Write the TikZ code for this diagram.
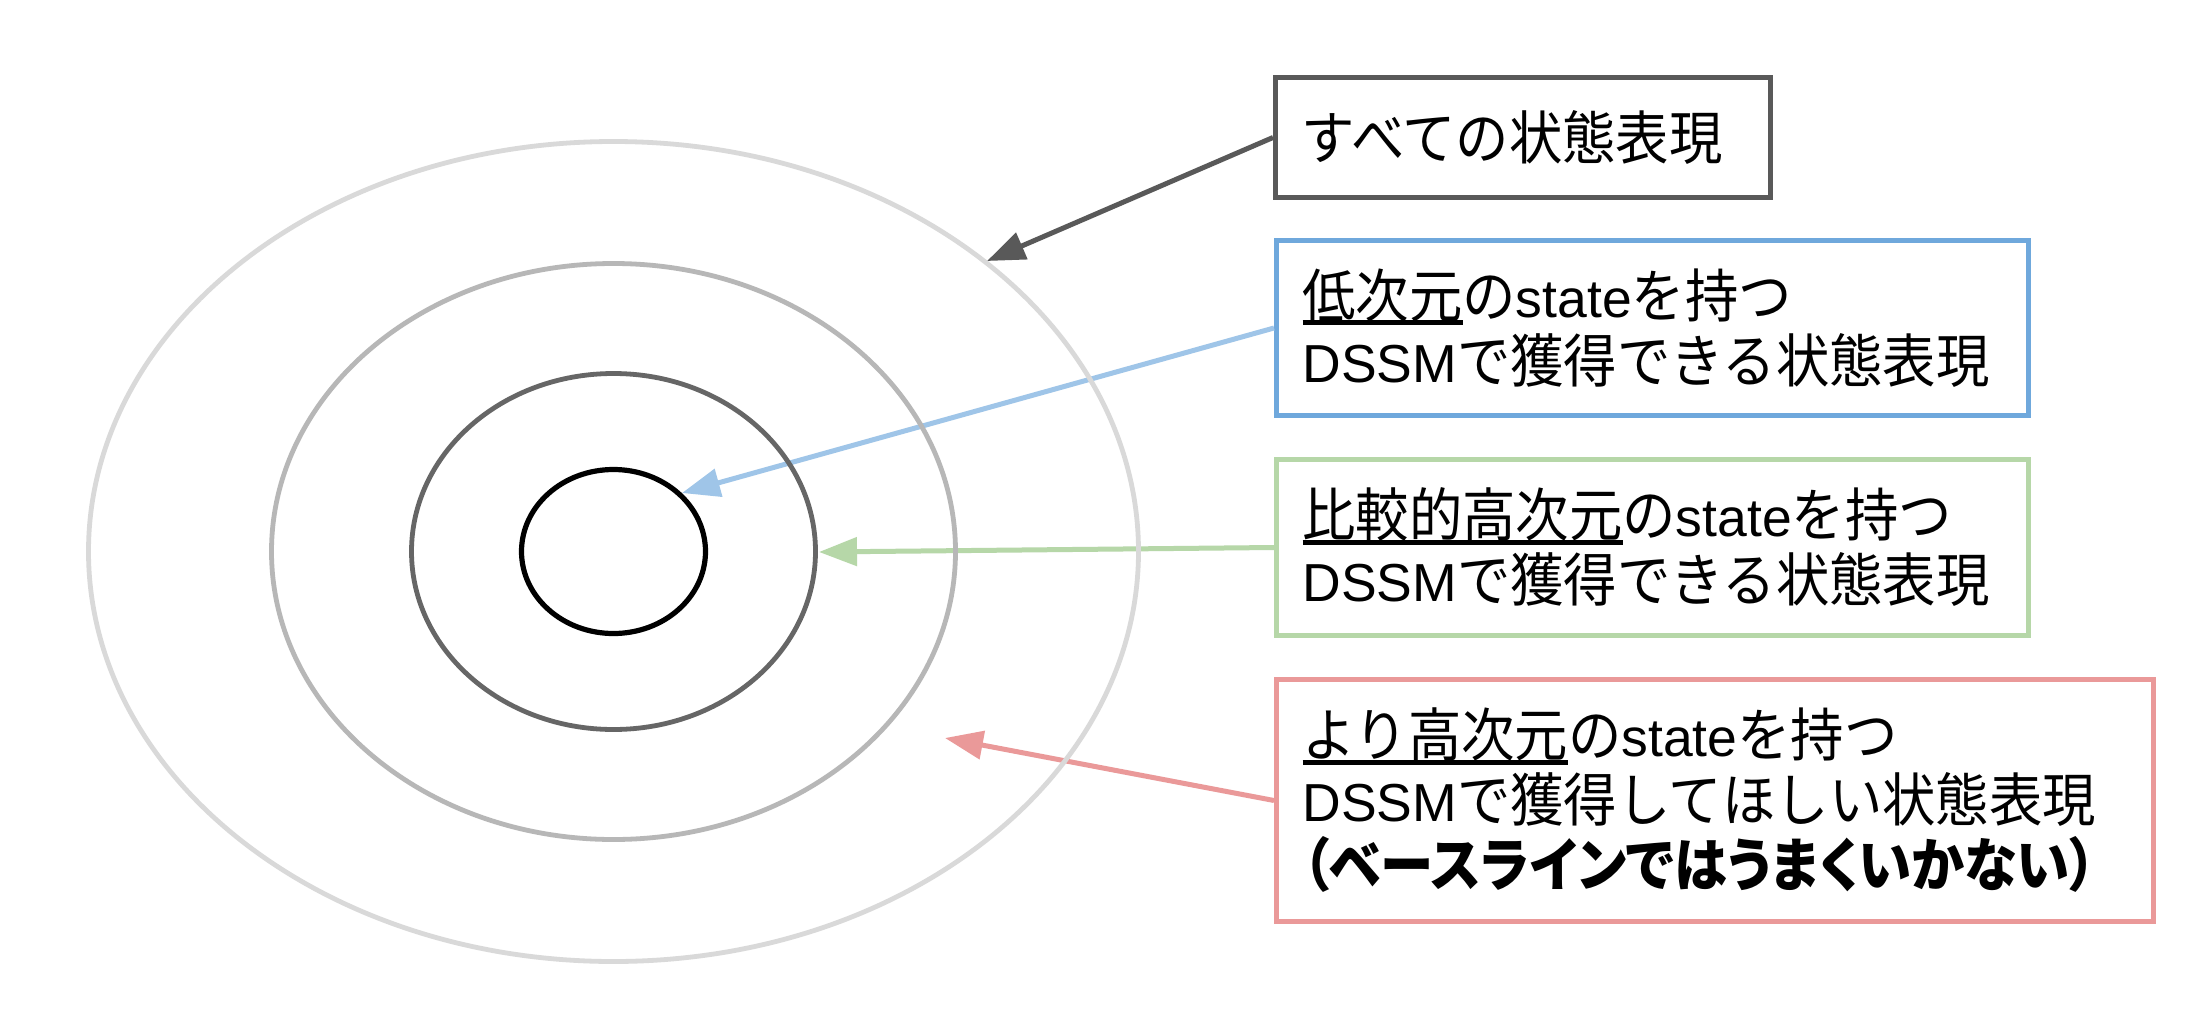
\documentclass[tikz,border=0pt]{standalone}
\usepackage{fontspec}
\setmainfont{Liberation Sans}
\newfontfamily\jp[Scale=1.084,FakeStretch=0.92]{Noto Sans CJK JP}
\newfontfamily\jpp[Scale=1.084,FakeStretch=0.92,RawFeature=+palt]{Noto Sans CJK JP}
\usetikzlibrary{arrows.meta}
\definecolor{cdark}{HTML}{595959}
\definecolor{cblueb}{HTML}{6FA8DC}
\definecolor{cbluea}{HTML}{9FC5E8}
\definecolor{cgreen}{HTML}{B6D7A8}
\definecolor{cred}{HTML}{EA9999}
\definecolor{ring1}{HTML}{D9D9D9}
\definecolor{ring2}{HTML}{B7B7B7}
\definecolor{ring3}{HTML}{666666}
\newsavebox\ulbox
\newcommand\ulx[1]{\sbox\ulbox{#1}\rlap{\rule[-8pt]{\wd\ulbox}{5pt}}\usebox\ulbox}
\begin{document}
\begin{tikzpicture}[x=1pt,y=-1pt,
  lbl/.style={draw, line width=5pt, rectangle, inner xsep=26pt, inner ysep=0pt,
    align=left, font=\fontsize{53.5}{65}\selectfont},
  conn/.style={line width=5pt, -{Triangle[length=38pt,width=28pt]}},
  ring/.style={line width=4.8pt}]
\useasboundingbox (0,0) rectangle (2212,1012);
\fill[white] (0,0) rectangle (2212,1012);

% boxes
\node[lbl, draw=cdark, text width=443pt, minimum height=120pt] (b1) at (1523,137.5)
  {\jp すべての状態表現};
\node[lbl, draw=cblueb, text width=700pt, minimum height=175pt] (b2) at (1652.5,328)
  {{\jp\ulx{低次元}の}state{\jp を持つ}\\DSSM{\jp で獲得できる状態表現}};
\node[lbl, draw=cgreen, text width=700pt, minimum height=176pt] (b3) at (1652.5,547.5)
  {{\jp\ulx{比較的高次元}の}state{\jp を持つ}\\DSSM{\jp で獲得できる状態表現}};
\node[lbl, draw=cred, text width=825pt, minimum height=242pt] (b4) at (1715,800.5)
  {{\jp\ulx{より高次元}の}state{\jp を持つ}\\DSSM{\jp で獲得してほしい状態表現}\\{\jpp\bfseries （ベースラインではうまくいかない）}};

% arrow tips
\coordinate (t1) at (987,261);
\coordinate (t2) at (682,493);
\coordinate (t3) at (819,552);
\coordinate (t4) at (945,738);

\draw[conn, cdark] (b1.west) -- (t1);
\draw[conn, cbluea] (b2.west) -- (t2);
\draw[conn, cgreen] (b3.west) -- (t3);
\draw[conn, cred] (b4.west) -- (t4);

% rings
\coordinate (c) at (613.5,551.5);
\draw[ring, ring1] (c) ellipse [x radius=525, y radius=410];
\draw[ring, ring2] (c) ellipse [x radius=342, y radius=288];
\draw[ring, ring3] (c) ellipse [x radius=202, y radius=178];
\draw[ring, black, line width=5.2pt] (c) ellipse [x radius=92, y radius=82];
\end{tikzpicture}
\end{document}
